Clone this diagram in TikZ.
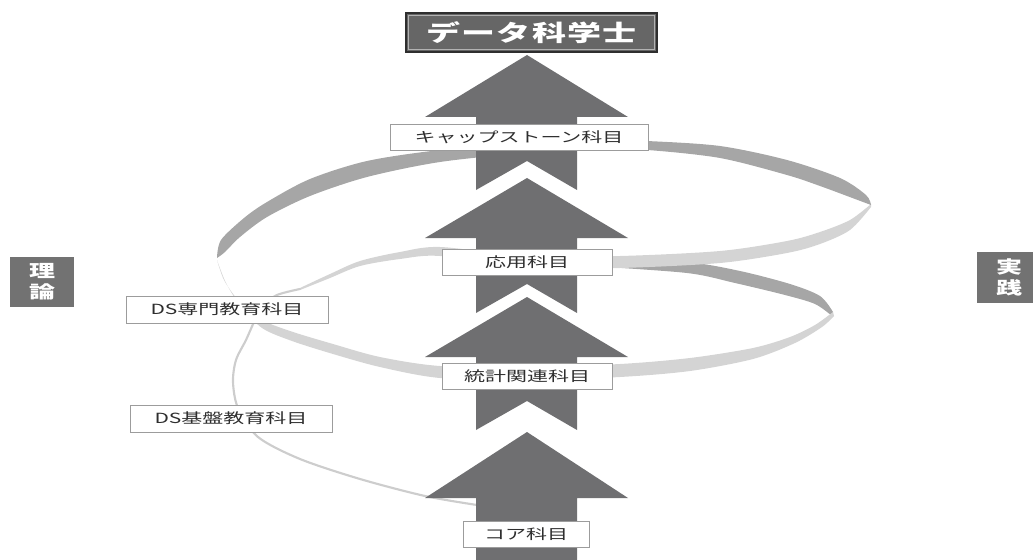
\documentclass[tikz,border=0pt]{standalone}
\usepackage{fontspec}
\newfontfamily\jp[FakeStretch=1.5]{Noto Sans CJK JP}
\definecolor{arrowgray}{HTML}{6F6F71}
\definecolor{titlegray}{HTML}{666666}
\definecolor{titleedge}{HTML}{2E2E2E}
\definecolor{sidegray}{HTML}{727272}
\definecolor{ribdark}{HTML}{A6A6A6}
\definecolor{riblight}{HTML}{D4D4D4}
\definecolor{ribthin}{HTML}{CDCDCD}
\definecolor{boxline}{HTML}{9C9C9C}
\definecolor{lbltext}{HTML}{2E2E2E}
\newcommand\DrawChev[3]{\fill[arrowgray] (527,#1) -- (628,#2) -- (577,#2) -- (577,#3) -- (527,{#3-29}) -- (476,#3) -- (476,#2) -- (425,#2) -- cycle;}
\tikzset{
  lbl/.style={draw=boxline, line width=0.75pt, fill=white, inner sep=0pt,
    minimum height=26*0.75pt, text=lbltext, font=\jp\fontsize{10.5}{12}\selectfont},
  side/.style={fill=sidegray, text=white, inner sep=0pt, minimum width=64*0.75pt,
    align=center, font=\jp\bfseries\fontsize{13}{15.5}\selectfont},
  titlebox/.style={fill=titlegray, draw=titleedge, line width=1.5pt, text=white,
    inner sep=0pt, minimum width=251*0.75pt, minimum height=39*0.75pt,
    font=\jp\bfseries\fontsize{17}{20}\selectfont}
}
\begin{document}
\begin{tikzpicture}[x=0.75pt,y=-0.75pt]
\useasboundingbox (0,0) rectangle (1033,560);
% ---------- ribbons ----------
% lower loop, back
\fill[ribdark] plot[smooth] coordinates {(590,256) (687,262) (740,271) (790,284) (820,296) (833,312)}
  -- plot[smooth] coordinates {(832,316) (815,304) (785,295) (735,283) (687,273) (590,266)} -- cycle;
% upper loop, front
\fill[riblight] plot[smooth] coordinates {(871,204) (850,220) (820,232) (787,241) (720,251) (620,256) (527,256) (440,247) (400,252) (360,261) (330,274) (300,288)}
  -- plot[smooth] coordinates {(300,290) (330,278) (360,266) (400,259) (440,256) (527,268) (620,268) (720,263) (787,253) (820,244) (850,230) (871,207)} -- cycle;
% upper loop, back
\fill[ribdark] plot[smooth] coordinates {(217,258) (221,240) (244,218) (267,202) (310,179) (367,161) (440,150) (527,143) (600,140) (647,141) (720,146) (787,160) (840,178) (866,195) (871,205)}
  -- plot[smooth] coordinates {(871,205) (855,199) (820,186) (787,175) (720,158) (647,150) (600,150) (527,153) (440,162) (367,177) (310,196) (267,217) (240,237) (225,252) (217,258)} -- cycle;
% lower loop, front
\fill[riblight] plot[smooth] coordinates {(833,312) (815,325) (790,337) (753,348) (690,358) (620,364) (527,367) (440,366) (380,357) (333,344) (290,331) (260,319) (238,300) (224,280) (217,260)}
  -- plot[smooth] coordinates {(217,260) (226,283) (240,305) (262,328) (292,341) (333,354) (380,367) (440,378) (527,380) (620,377) (690,371) (753,359) (795,343) (822,327) (834,316)} -- cycle;
% thin strand to the core
\draw[ribthin, line width=1.6pt, line cap=round] plot[smooth] coordinates {(300,289) (277,295) (262,306) (254,322) (246,340) (236,360) (233,382) (238,408) (258,437) (300,459) (360,479) (425,496) (477,505)};
% ---------- arrows ----------
\DrawChev{55}{117}{190}
\DrawChev{178}{238}{313}
\DrawChev{297}{357}{430}
\fill[arrowgray] (527,432) -- (628,498) -- (577,498) -- (577,565) -- (476,565) -- (476,498) -- (425,498) -- cycle;
% ---------- boxes ----------
\node[titlebox] (title) at (531.5,32.5) {デ\hspace{1pt}ー\hspace{1pt}タ\hspace{1pt}科\hspace{1pt}学\hspace{1pt}士};
\draw[draw=white!70!black, line width=0.6pt] ([shift={(3.5,3.5)}]title.north west) rectangle ([shift={(-3.5,-3.5)}]title.south east);
\node[lbl, minimum width=258*0.75pt] (cap) at (519,137.5) {キャップストーン科目};
\node[lbl, minimum width=170*0.75pt] (app) at (527,262) {応用科目};
\node[lbl, minimum width=170*0.75pt] (stat) at (527,376) {統計関連科目};
\node[lbl, minimum width=126*0.75pt] (core) at (526,534) {コア科目};
\node[lbl, minimum width=202*0.75pt, minimum height=27*0.75pt] (dssp) at (227,309.5) {DS専門教育科目};
\node[lbl, minimum width=202*0.75pt, minimum height=27*0.75pt] (dsbase) at (231,418.5) {DS基盤教育科目};
\node[side, minimum height=50*0.75pt] (theory) at (42,282) {理\\論};
\node[side, minimum height=51*0.75pt] (practice) at (1009,277.5) {実\\践};
\end{tikzpicture}
\end{document}
